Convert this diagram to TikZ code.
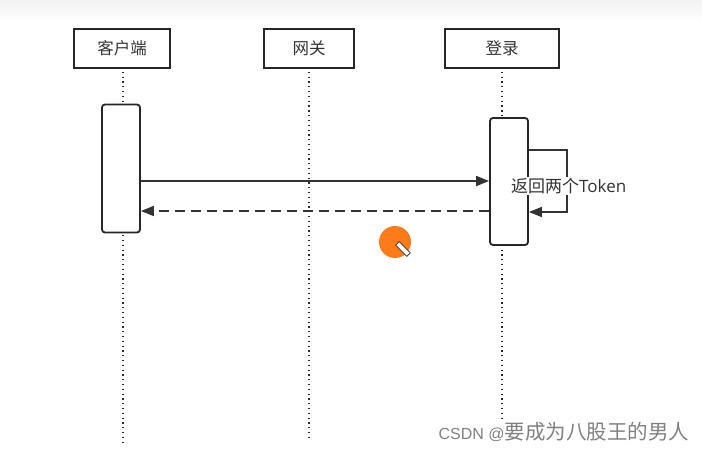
\documentclass[tikz,border=0pt]{standalone}
\usepackage{fontspec}
\setmainfont{Noto Sans CJK SC}
\newfontfamily\latinfont{Open Sans}
\newfontfamily\arialfont{Liberation Sans}
\usetikzlibrary{arrows.meta}
\begin{document}
\begin{tikzpicture}[x=1pt,y=-1pt,
  actor/.style={draw=black!85,line width=1.8pt,minimum width=96pt,minimum height=39pt,inner sep=0pt,font=\fontsize{16.5}{18}\selectfont,text=black!80},
  act/.style={draw=black!85,line width=1.8pt,rounded corners=3pt,fill=white},
  life/.style={line width=2pt,dash pattern=on 1.2pt off 3.6pt,black!85},
  msg/.style={line width=1.7pt,black!80,-{Triangle[length=13pt,width=10pt]}},
  ret/.style={msg,dash pattern=on 10pt off 6pt}]
\useasboundingbox (0,0) rectangle (702,452);
\fill[top color=black!5,bottom color=white] (0,0) rectangle (702,22);
% actors
\node[actor] (c) at (122,48.5) {客户端};
\node[actor,minimum width=90pt] (g) at (309,48.5) {网关};
\node[actor,minimum width=114pt] (l) at (502,48.5) {登录};
% lifelines
\coordinate (ce) at (123,445);
\coordinate (ge) at (309,437);
\coordinate (le) at (502,420);
\draw[life] (c.south) ++(1,3) -- (ce);
\draw[life] (g.south) ++(0,3) -- (ge);
\draw[life] (l.south) ++(0,3) -- (le);
% activations
\node[act,minimum width=38pt,minimum height=128pt,inner sep=0pt] (a1) at (121,168.5) {};
\node[act,minimum width=38pt,minimum height=127pt,inner sep=0pt] (a2) at (509,181.5) {};
% messages
\draw[msg] (a1.east |- 0,181) -- (a2.west |- 0,181);
\draw[ret] (a2.west |- 0,211) -- (a1.east |- 0,211);
% self loop
\coordinate (s1) at (567,150);
\coordinate (s2) at (567,212);
\draw[msg] (a2.east |- s1) -- (s1) -- (s2) -- (a2.east |- s2);
\node[fill=white,inner sep=1pt,anchor=west,font=\fontsize{17}{19}\selectfont,text=black!80] (t) at (510,186) {返回两个{\latinfont Token}};
% cursor
\fill[orange!85!red!90!white] (395,242) circle (16);
\node[draw=black,fill=white,line width=0.6pt,minimum width=16pt,minimum height=5pt,inner sep=0pt,rotate=-45] (pen) at (403,249) {};
% watermark
\node[anchor=west,text=black!50,font=\fontsize{20.5}{22}\selectfont] (wm) at (435,432) {{\arialfont\fontsize{16}{18}\selectfont CSDN @}要成为八股王的男人};
\end{tikzpicture}
\end{document}
